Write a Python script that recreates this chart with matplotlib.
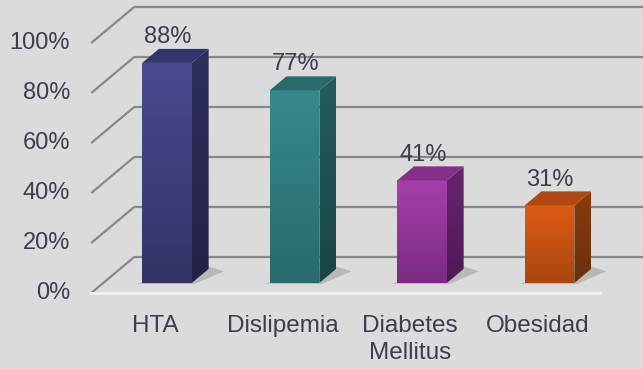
import numpy as np
import matplotlib.pyplot as plt
from matplotlib.patches import Polygon
from matplotlib.colors import LinearSegmentedColormap

# data
categories = ["HTA", "Dislipemia", "Diabetes\nMellitus", "Obesidad"]
values = [0.88, 0.77, 0.41, 0.31]
value_labels = ["88%", "77%", "41%", "31%"]
ticks = [0.0, 0.2, 0.4, 0.6, 0.8, 1.0]
tick_labels = ["0%", "20%", "40%", "60%", "80%", "100%"]

# front top, front bottom, side top, side bottom, top face
bar_colors = [
    ("#4a4a90", "#333367", "#2e2e5c", "#232346", "#35356d"),
    ("#368a8c", "#29696b", "#245c5d", "#1a4445", "#2a6a6a"),
    ("#a63fab", "#7b2b81", "#6a2470", "#4d1a54", "#852e8a"),
    ("#dd5b14", "#a9470f", "#8a3d10", "#67300c", "#ad4911"),
]

bg = "#dbdbdb"
txt = "#3d3d4d"
font = "Liberation Sans"

# projection of the pseudo-3D box (data units)
depth = np.array([0.337, 0.144])   # full floor depth vector
d0, d1 = 0.28, 0.67               # bar front / back depth fractions
half_w = 0.195                     # half of bar front width
x_left, x_right = -0.5, 3.49

fig = plt.figure(figsize=(6.43, 3.69), dpi=100, facecolor=bg)
ax = fig.add_axes([0, 0, 1, 1])
ax.set_facecolor(bg)
ax.axis("off")

# gridlines: left side wall + back wall
for t in ticks:
    ax.plot([x_left, x_left + depth[0]], [t, t + depth[1]],
            color="#888888", lw=1.6, zorder=1, solid_capstyle="butt")
    ax.plot([x_left + depth[0], 4.0], [t + depth[1], t + depth[1]],
            color="#888888", lw=1.6, zorder=1, solid_capstyle="butt")

# floor front edge
ax.plot([x_left, x_right], [0, 0], color="#eeeef2", lw=2.2, zorder=1)

for lab, t in zip(tick_labels, ticks):
    ax.text(-0.665, t, lab, ha="right", va="center", fontsize=17,
            color=txt, family=font)


def grad_poly(xy, c_top, c_bot, z):
    xy = np.asarray(xy)
    cmap = LinearSegmentedColormap.from_list("g", [c_bot, c_top])
    poly = Polygon(xy, closed=True, facecolor="none", edgecolor="none")
    ax.add_patch(poly)
    img = ax.imshow(np.linspace(0, 1, 256).reshape(-1, 1), cmap=cmap,
                    origin="lower", aspect="auto", zorder=z,
                    extent=(xy[:, 0].min(), xy[:, 0].max(),
                            xy[:, 1].min(), xy[:, 1].max()),
                    interpolation="bilinear")
    img.set_clip_path(poly)


fx, fy = depth * d0
sx, sy = depth * (d1 - d0)
for i, (v, cols) in enumerate(zip(values, bar_colors)):
    xl = i + fx - half_w
    xr = i + fx + half_w
    yb = fy
    yt = v + fy
    # shadow on the floor
    ax.add_patch(Polygon([(xl - 0.05, yb - 0.004), (xr + 0.02, yb - 0.004),
                          (xr + sx + 0.12, yb + sy - 0.01), (xr + sx, yb + sy + 0.01)],
                         closed=True, facecolor="#6a6a6a", alpha=0.3,
                         edgecolor="none", zorder=2))
    # front face
    grad_poly([(xl, yb), (xr, yb), (xr, yt), (xl, yt)], cols[0], cols[1], 3)
    # side face
    grad_poly([(xr, yb), (xr + sx, yb + sy), (xr + sx, yt + sy), (xr, yt)],
              cols[2], cols[3], 3)
    # top face
    ax.add_patch(Polygon([(xl, yt), (xr, yt), (xr + sx, yt + sy), (xl + sx, yt + sy)],
                         closed=True, facecolor=cols[4], edgecolor="none", zorder=3))
    ax.text(i + 0.1, v + 0.144, value_labels[i], ha="center", va="center",
            fontsize=17, color=txt, family=font, zorder=4)
    ax.text(i, -0.088, categories[i], ha="center", va="top", fontsize=17.5,
            color=txt, family=font, linespacing=1.3)

ax.set_xlim(-155 / 127.5, 488 / 127.5)
ax.set_ylim(-76 / 250, 293 / 250)

fig.savefig("out.png", dpi=100, facecolor=bg)
